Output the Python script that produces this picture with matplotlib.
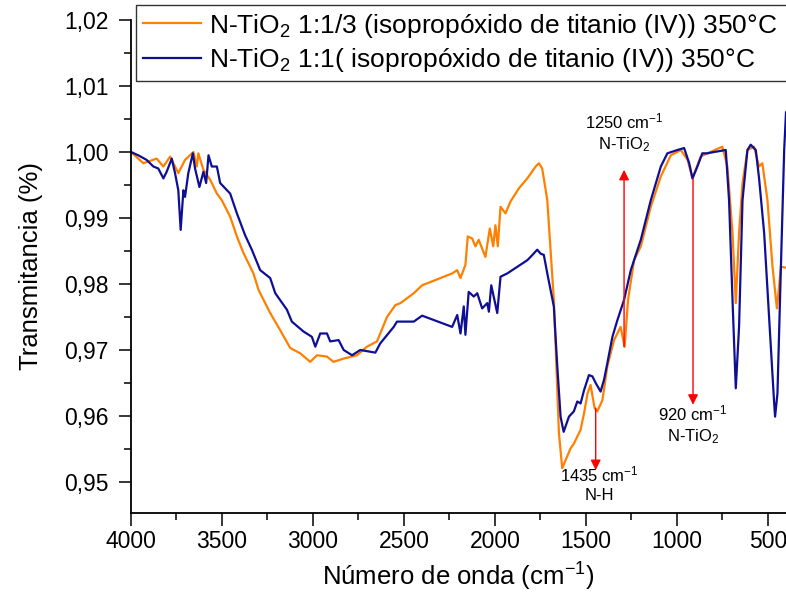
import matplotlib
matplotlib.use('Agg')
import matplotlib.pyplot as plt
from matplotlib.ticker import MultipleLocator, FuncFormatter

plt.rcParams['font.family'] = ['Liberation Sans', 'DejaVu Sans']
plt.rcParams['mathtext.fontset'] = 'custom'
plt.rcParams['mathtext.rm'] = 'Liberation Sans'
plt.rcParams['mathtext.it'] = 'Liberation Sans:italic'
plt.rcParams['mathtext.bf'] = 'Liberation Sans:bold'

# N-TiO2 1:1/3 (orange)
wn_a = [4000, 3932, 3859, 3822, 3785, 3740, 3703, 3657, 3638, 3630, 3602, 3565,
        3528, 3501, 3455, 3418, 3382, 3327, 3299, 3235, 3180, 3125, 3070, 3015,
        2978, 2923, 2887, 2831, 2758, 2703, 2648, 2593, 2547, 2519, 2446, 2400,
        2235, 2207, 2189, 2162, 2149, 2125, 2107, 2089, 2052, 2028, 2009, 1997,
        1984, 1969, 1942, 1914, 1868, 1822, 1776, 1758, 1740, 1712, 1676, 1648,
        1630, 1584, 1566, 1529, 1510, 1491, 1474, 1452, 1437, 1409, 1382, 1345,
        1309, 1287, 1268, 1235, 1198, 1143, 1088, 1033, 978, 941, 914, 869,
        832, 750, 722, 694, 676, 658, 639, 612, 576, 548, 530, 502,
        474, 450, 428, 405]
t_a = [1.0000, 0.9983, 0.9990, 0.9978, 0.9993, 0.9968, 0.9988, 1.0000, 0.9978, 0.9998, 0.9973, 0.9958,
       0.9937, 0.9927, 0.9902, 0.9872, 0.9847, 0.9816, 0.9791, 0.9756, 0.9730, 0.9703, 0.9695, 0.9682,
       0.9692, 0.9690, 0.9682, 0.9687, 0.9692, 0.9705, 0.9713, 0.9750, 0.9768, 0.9771, 0.9786, 0.9798,
       0.9816, 0.9821, 0.9809, 0.9829, 0.9872, 0.9869, 0.9857, 0.9867, 0.9841, 0.9884, 0.9857, 0.9889,
       0.9857, 0.9917, 0.9907, 0.9925, 0.9945, 0.9960, 0.9978, 0.9983, 0.9975, 0.9927, 0.9776, 0.9574,
       0.9521, 0.9551, 0.9558, 0.9579, 0.9604, 0.9634, 0.9647, 0.9612, 0.9607, 0.9624, 0.9675, 0.9715,
       0.9735, 0.9705, 0.9776, 0.9836, 0.9857, 0.9917, 0.9963, 0.9995, 1.0003, 0.9988, 0.9960, 0.9993,
       0.9998, 1.0008, 0.9978, 0.9877, 0.9771, 0.9877, 0.9953, 1.0003, 1.0008, 0.9978, 0.9983, 0.9927,
       0.9826, 0.9763, 0.9826, 0.9825]

# N-TiO2 1:1 (navy)
wn_b = [4000, 3960, 3914, 3877, 3850, 3822, 3804, 3776, 3758, 3740, 3727, 3712,
        3703, 3685, 3660, 3648, 3624, 3602, 3587, 3574, 3556, 3528, 3510, 3455,
        3418, 3373, 3336, 3290, 3235, 3207, 3143, 3116, 3052, 3006, 2987, 2960,
        2923, 2905, 2859, 2831, 2785, 2740, 2657, 2630, 2556, 2538, 2446, 2400,
        2235, 2207, 2189, 2171, 2162, 2144, 2116, 2097, 2070, 2042, 2033, 2020,
        1987, 1969, 1932, 1877, 1822, 1804, 1767, 1749, 1731, 1712, 1676, 1657,
        1639, 1622, 1593, 1566, 1547, 1529, 1510, 1483, 1464, 1446, 1419, 1400,
        1382, 1354, 1327, 1290, 1253, 1198, 1143, 1088, 1052, 997, 960, 932,
        914, 887, 860, 832, 795, 731, 713, 694, 676, 658, 639, 612,
        594, 566, 548, 520, 493, 465, 460, 447, 428, 410, 400]
t_b = [1.0000, 0.9995, 0.9988, 0.9978, 0.9975, 0.9960, 0.9970, 0.9990, 0.9968, 0.9942, 0.9882, 0.9942,
       0.9932, 0.9968, 0.9998, 0.9975, 0.9947, 0.9970, 0.9953, 0.9995, 0.9978, 0.9978, 0.9953, 0.9937,
       0.9907, 0.9874, 0.9852, 0.9821, 0.9809, 0.9786, 0.9761, 0.9743, 0.9728, 0.9720, 0.9705, 0.9725,
       0.9725, 0.9713, 0.9715, 0.9700, 0.9692, 0.9700, 0.9696, 0.9710, 0.9735, 0.9743, 0.9743, 0.9752,
       0.9735, 0.9753, 0.9725, 0.9766, 0.9723, 0.9788, 0.9781, 0.9786, 0.9763, 0.9771, 0.9758, 0.9798,
       0.9756, 0.9811, 0.9816, 0.9826, 0.9836, 0.9841, 0.9852, 0.9846, 0.9844, 0.9816, 0.9766, 0.9675,
       0.9599, 0.9576, 0.9599, 0.9607, 0.9622, 0.9619, 0.9639, 0.9662, 0.9660, 0.9650, 0.9637, 0.9655,
       0.9680, 0.9720, 0.9745, 0.9776, 0.9821, 0.9867, 0.9927, 0.9978, 0.9998, 1.0003, 1.0006, 0.9983,
       0.9960, 0.9978, 0.9998, 0.9998, 1.0000, 1.0003, 0.9927, 0.9776, 0.9642, 0.9735, 0.9927, 1.0003,
       1.0011, 1.0003, 0.9960, 0.9877, 0.9750, 0.9619, 0.9599, 0.9634, 0.9826, 1.0003, 1.0060]

label_a = 'N-TiO$_2$ 1:1/3 (isopropóxido de titanio (IV)) 350°C'
label_b = 'N-TiO$_2$ 1:1( isopropóxido de titanio (IV)) 350°C'

x_ticks = [4000, 3500, 3000, 2500, 2000, 1500, 1000, 500]
y_ticks = [0.95, 0.96, 0.97, 0.98, 0.99, 1.00, 1.01, 1.02]

# (text, x, y of text, arrow start, arrow end)
peaks = [
    ('1250 cm$^{-1}$\nN-TiO$_2$', 1290, 1.0029, 0.9705, 0.9973),
    ('920 cm$^{-1}$\nN-TiO$_2$', 912, 0.9587, 0.9960, 0.9617),
    ('1435 cm$^{-1}$\nN-H', 1426, 0.9497, 0.9612, 0.9518),
]
arrow_x = [1290, 911, 1446]


def main():
    fig = plt.figure(figsize=(7.86, 5.93), dpi=100)
    ax = fig.add_axes([131 / 786, 80 / 593, 655 / 786, 493 / 593])

    ax.plot(wn_a, t_a, color='#FF8000', lw=1.6, label=label_a)
    ax.plot(wn_b, t_b, color='#0F0F96', lw=1.6, label=label_b)

    for (txt, tx, ty, y0, y1), xa in zip(peaks, arrow_x):
        ax.annotate('', xy=(xa, y1), xytext=(xa, y0),
                    arrowprops=dict(arrowstyle='-|>', color='red', lw=1,
                                    mutation_scale=15, shrinkA=0, shrinkB=0))
        ax.text(tx, ty, txt, ha='center', va='center', fontsize=12,
                linespacing=1.3)

    ax.set_xlim(4000, 400)
    ax.set_ylim(0.9453, 1.0200)
    ax.set_xticks(x_ticks)
    ax.set_yticks(y_ticks)
    ax.xaxis.set_minor_locator(MultipleLocator(250))
    ax.yaxis.set_minor_locator(MultipleLocator(0.005))
    ax.yaxis.set_major_formatter(FuncFormatter(lambda v, p: f'{v:.2f}'.replace('.', ',')))
    ax.tick_params(which='major', direction='out', length=9, width=1.1, labelsize=16.5)
    ax.tick_params(axis='y', which='major', pad=7)
    ax.tick_params(which='minor', direction='out', length=5, width=1.1)

    for side in ('top', 'right'):
        ax.spines[side].set_visible(False)
    for side in ('left', 'bottom'):
        ax.spines[side].set_linewidth(1.3)

    ax.set_xlabel('Número de onda (cm$^{-1}$)', fontsize=18.5, labelpad=5)
    ax.set_ylabel('Transmitancia (%)', fontsize=18.5, labelpad=15)

    # legend frame runs past the right edge, as in the original
    leg = fig.legend(loc='upper left', mode='expand',
                     bbox_to_anchor=(136 / 786, 1 - 80 / 593, 720 / 786, 75 / 593),
                     fontsize=19, frameon=True, fancybox=False, edgecolor='black',
                     handlelength=2.2, handletextpad=0.3, borderpad=0.25,
                     borderaxespad=0, labelspacing=0.25)
    leg.get_frame().set_linewidth(1)

    fig.savefig('out.png', dpi=100)


if __name__ == '__main__':
    main()
